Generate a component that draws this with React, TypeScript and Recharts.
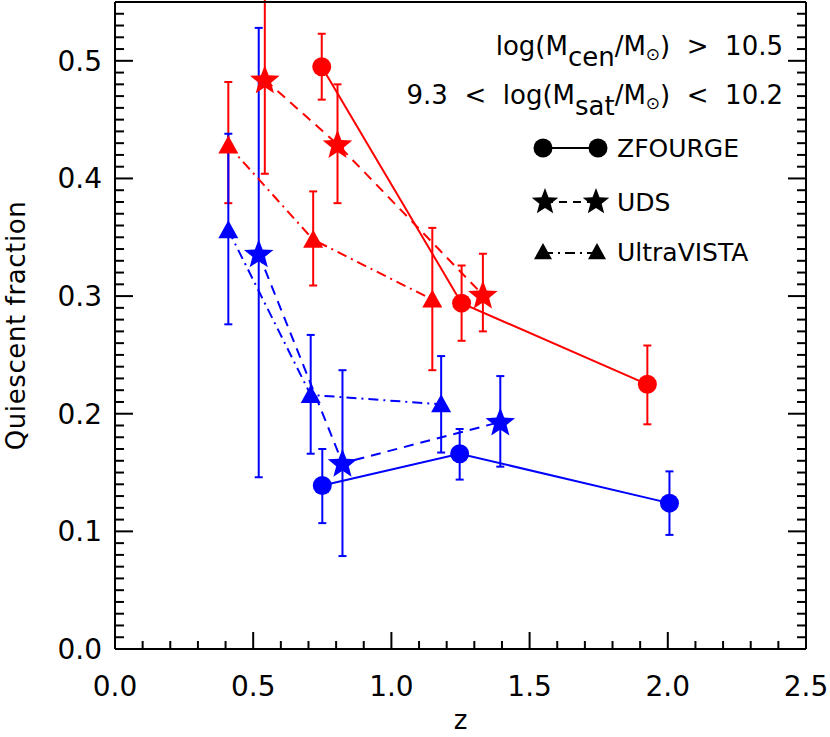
import { ComposedChart, Line, XAxis, YAxis, ErrorBar } from 'recharts';

const FONT = '"DejaVu Sans", sans-serif';
const RED = '#ff0000';
const BLUE = '#0000ff';

// ZFOURGE (circles, solid)
const zfRedZ = [0.748, 1.254, 1.926];
const zfRedQ = [0.495, 0.294, 0.225];
const zfRedLo = [0.467, 0.262, 0.191];
const zfRedHi = [0.523, 0.326, 0.258];

const zfBlueZ = [0.75, 1.247, 2.006];
const zfBlueQ = [0.139, 0.166, 0.124];
const zfBlueLo = [0.107, 0.144, 0.097];
const zfBlueHi = [0.170, 0.187, 0.151];

// UDS (stars, dashed)
const udsRedZ = [0.542, 0.805, 1.331];
const udsRedQ = [0.484, 0.429, 0.301];
const udsRedLo = [0.404, 0.379, 0.270];
const udsRedHi = [0.565, 0.480, 0.336];

const udsBlueZ = [0.520, 0.823, 1.394];
const udsBlueQ = [0.336, 0.158, 0.193];
const udsBlueLo = [0.146, 0.079, 0.155];
const udsBlueHi = [0.528, 0.237, 0.232];

// UltraVISTA (triangles, dash-dot)
const uvRedZ = [0.41, 0.717, 1.148];
const uvRedQ = [0.428, 0.348, 0.297];
const uvRedLo = [0.379, 0.309, 0.237];
const uvRedHi = [0.482, 0.389, 0.358];

const uvBlueZ = [0.41, 0.708, 1.18];
const uvBlueQ = [0.356, 0.216, 0.208];
const uvBlueLo = [0.276, 0.166, 0.167];
const uvBlueHi = [0.438, 0.267, 0.249];

// axis ticks: majors carry labels, the rest are minor marks
const xTicks = Array.from({ length: 26 }, (_, i) => i / 10);
const yTicks = Array.from({ length: 56 }, (_, i) => i / 100);

const DASHED = '10 7';
const DASHDOT = '10 5 2 5';

type Kind = 'circle' | 'star' | 'triangle';

const rows = (z: number[], q: number[], lo: number[], hi: number[]) =>
  z.map((x, i) => ({ x, y: q[i], err: [q[i] - lo[i], hi[i] - q[i]] }));

const series = [
  { id: 'zfR', data: rows(zfRedZ, zfRedQ, zfRedLo, zfRedHi), color: RED, kind: 'circle' as Kind, dash: undefined },
  { id: 'zfB', data: rows(zfBlueZ, zfBlueQ, zfBlueLo, zfBlueHi), color: BLUE, kind: 'circle' as Kind, dash: undefined },
  { id: 'udsR', data: rows(udsRedZ, udsRedQ, udsRedLo, udsRedHi), color: RED, kind: 'star' as Kind, dash: DASHED },
  { id: 'udsB', data: rows(udsBlueZ, udsBlueQ, udsBlueLo, udsBlueHi), color: BLUE, kind: 'star' as Kind, dash: DASHED },
  { id: 'uvR', data: rows(uvRedZ, uvRedQ, uvRedLo, uvRedHi), color: RED, kind: 'triangle' as Kind, dash: DASHDOT },
  { id: 'uvB', data: rows(uvBlueZ, uvBlueQ, uvBlueLo, uvBlueHi), color: BLUE, kind: 'triangle' as Kind, dash: DASHDOT },
];

function starPath(cx: number, cy: number, R: number, r: number) {
  let d = '';
  for (let i = 0; i < 10; i++) {
    const rad = i % 2 === 0 ? R : r;
    const a = -Math.PI / 2 + (i * Math.PI) / 5;
    d += (i === 0 ? 'M' : 'L') + (cx + rad * Math.cos(a)).toFixed(2) + ',' + (cy + rad * Math.sin(a)).toFixed(2);
  }
  return d + 'Z';
}

function Marker({ kind, cx, cy, color, s = 1 }: { kind: Kind; cx: number; cy: number; color: string; s?: number }) {
  if (kind === 'circle') return <circle cx={cx} cy={cy} r={9.5 * s} fill={color} />;
  if (kind === 'star') return <path d={starPath(cx, cy + 1, 15.5 * s, 6.6 * s)} fill={color} />;
  const w = 10 * s;
  return (
    <path
      d={`M${cx},${cy - 10 * s}L${cx + w},${cy + 8 * s}L${cx - w},${cy + 8 * s}Z`}
      fill={color}
    />
  );
}

const isMajor = (v: number, step: number) => Math.abs(v / step - Math.round(v / step)) < 1e-6;

const tickText = { fontFamily: FONT, fontSize: 28, fill: '#000' };

function XTick(props: any) {
  const { x, y, payload, side } = props;
  const major = isMajor(payload.value, 0.5);
  const len = major ? 17 : 8;
  const dir = side === 'bottom' ? -1 : 1;
  return (
    <g>
      <line x1={x} y1={y} x2={x} y2={y + dir * len} stroke="#000" strokeWidth={2} />
      {side === 'bottom' && major && (
        <text x={x} y={y + 27} dy="0.71em" textAnchor="middle" {...tickText}>
          {payload.value.toFixed(1)}
        </text>
      )}
    </g>
  );
}

function YTick(props: any) {
  const { x, y, payload, side } = props;
  const major = isMajor(payload.value, 0.1);
  const len = major ? 18 : 9;
  const dir = side === 'left' ? 1 : -1;
  return (
    <g>
      <line x1={x} y1={y} x2={x + dir * len} y2={y} stroke="#000" strokeWidth={2} />
      {side === 'left' && major && (
        <text x={x - 13} y={y} dy="0.355em" textAnchor="end" {...tickText}>
          {payload.value.toFixed(1)}
        </text>
      )}
    </g>
  );
}

function YLabel({ viewBox }: any) {
  const cy = viewBox.y + viewBox.height / 2;
  return (
    <text
      transform={`translate(${viewBox.x + 25},${cy}) rotate(-90)`}
      textAnchor="middle"
      fontFamily={FONT}
      fontSize={26}
      letterSpacing={0.6}
      fill="#000"
    >
      Quiescent fraction
    </text>
  );
}

function XLabel({ viewBox }: any) {
  return (
    <text x={viewBox.x + viewBox.width / 2} y={viewBox.y + 80} textAnchor="middle" fontFamily={FONT} fontSize={26} fill="#000">
      z
    </text>
  );
}

const legendText = { fontFamily: FONT, fontSize: 25, fill: '#000' };
const pre = { whiteSpace: 'pre' as const };

function Key() {
  return (
    <svg width={830} height={300} style={{ position: 'absolute', left: 0, top: 0, pointerEvents: 'none' }}>
      <text x={783} y={55} textAnchor="end" fontFamily={FONT} fontSize={26} fill="#000" style={pre}>
        log(M<tspan dy={11}>cen</tspan>
        <tspan dy={-11}>/M</tspan>
        <tspan dy={5} fontSize={17}>⊙</tspan>
        <tspan dy={-5}>{')  >  10.5'}</tspan>
      </text>
      <text x={783} y={104} textAnchor="end" fontFamily={FONT} fontSize={26} fill="#000" style={pre}>
        {'9.3  <  log(M'}<tspan dy={11}>sat</tspan>
        <tspan dy={-11}>/M</tspan>
        <tspan dy={5} fontSize={17}>⊙</tspan>
        <tspan dy={-5}>{')  <  10.2'}</tspan>
      </text>

      <line x1={543} y1={148} x2={598} y2={148} stroke="#000" strokeWidth={2} />
      <Marker kind="circle" cx={543} cy={148} color="#000" />
      <Marker kind="circle" cx={598} cy={148} color="#000" />
      <text x={617} y={157} {...legendText}>ZFOURGE</text>

      <line x1={545} y1={202} x2={596} y2={202} stroke="#000" strokeWidth={2} strokeDasharray="8 6" />
      <Marker kind="star" cx={545} cy={201} color="#000" s={0.9} />
      <Marker kind="star" cx={596} cy={201} color="#000" s={0.9} />
      <text x={617} y={211} {...legendText}>UDS</text>

      <line x1={543} y1={253} x2={597} y2={253} stroke="#000" strokeWidth={2} strokeDasharray={DASHDOT} />
      <Marker kind="triangle" cx={543} cy={252} color="#000" s={0.9} />
      <Marker kind="triangle" cx={597} cy={252} color="#000" s={0.9} />
      <text x={617} y={261} {...legendText}>UltraVISTA</text>
    </svg>
  );
}

const frame = { stroke: '#000', strokeWidth: 2 };

export default function App() {
  return (
    <div style={{ position: 'absolute', left: 0, top: 0, width: 830, height: 737, background: '#fff' }}>
      <ComposedChart width={830} height={737} margin={{ top: 2, right: 24, bottom: 0, left: 0 }}>
        <XAxis
          xAxisId="b"
          dataKey="x"
          type="number"
          domain={[0, 2.5]}
          allowDataOverflow
          ticks={xTicks}
          interval={0}
          height={88}
          tickSize={0}
          tickMargin={0}
          tickLine={false}
          axisLine={frame}
          tick={<XTick side="bottom" />}
          label={<XLabel />}
        />
        <XAxis
          xAxisId="t"
          orientation="top"
          mirror
          type="number"
          domain={[0, 2.5]}
          allowDataOverflow
          ticks={xTicks}
          interval={0}
          tickSize={0}
          tickMargin={0}
          tickLine={false}
          axisLine={frame}
          tick={<XTick side="top" />}
        />
        <YAxis
          yAxisId="l"
          type="number"
          domain={[0, 0.55]}
          allowDataOverflow
          ticks={yTicks}
          interval={0}
          width={115}
          tickSize={0}
          tickMargin={0}
          tickLine={false}
          axisLine={frame}
          tick={<YTick side="left" />}
          label={<YLabel />}
        />
        <YAxis
          yAxisId="r"
          orientation="right"
          mirror
          type="number"
          domain={[0, 0.55]}
          allowDataOverflow
          ticks={yTicks}
          interval={0}
          tickSize={0}
          tickMargin={0}
          tickLine={false}
          axisLine={frame}
          tick={<YTick side="right" />}
        />
        {series.map((s) => (
          <Line
            key={s.id}
            xAxisId="b"
            yAxisId="l"
            data={s.data}
            dataKey="y"
            type="linear"
            stroke={s.color}
            strokeWidth={2}
            strokeDasharray={s.dash}
            isAnimationActive={false}
            activeDot={false}
            dot={(p: any) => <Marker key={`${s.id}-${p.index}`} kind={s.kind} cx={p.cx} cy={p.cy} color={s.color} />}
          >
            <ErrorBar dataKey="err" direction="y" width={4} stroke={s.color} strokeWidth={2} isAnimationActive={false} />
          </Line>
        ))}
      </ComposedChart>
      <Key />
    </div>
  );
}
